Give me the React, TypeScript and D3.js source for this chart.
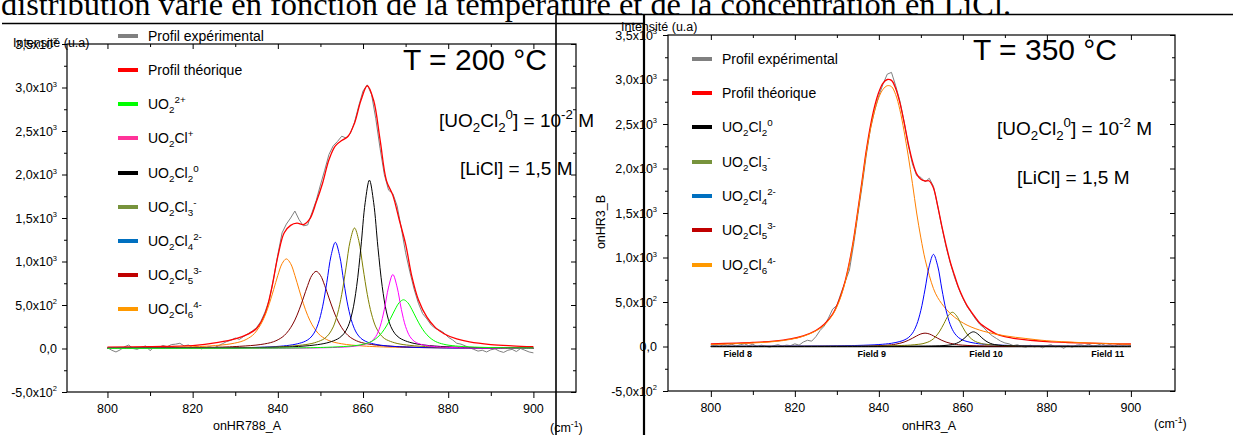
import * as d3 from "d3";
import React, { useEffect, useRef } from "react";

type Seg = { t: string; s?: "sub" | "sup" };

const SANS = "'Liberation Sans', Arial, sans-serif";
const SERIF = "'Liberation Serif', 'Times New Roman', serif";

// axis ticks, shared by both panels
const majorX = [800, 820, 840, 860, 880, 900];
const minorX = [810, 830, 850, 870, 890];
const majorY = [-500, 0, 500, 1000, 1500, 2000, 2500, 3000, 3500];
const minorY = [-250, 250, 750, 1250, 1750, 2250, 2750, 3250];

// experimental spectra are sampled every 1 cm-1 from 800 to 900
const expWave = d3.range(800, 901);

// ---------- T = 200 °C ----------
const exp200 = [
  10, -20, -40, -15, 20, 40, 0, -10, 15, 30,
  -25, 20, 10, 35, 20, 45, 50, 60, 30, 40,
  10, 25, -5, 10, 20, 5, 30, 55, 80, 95,
  120, 105, 140, 170, 200, 240, 310, 420, 560, 800,
  1080, 1330, 1430, 1500, 1580, 1480, 1410, 1420, 1560, 1700,
  1880, 2050, 2230, 2330, 2380, 2440, 2420, 2470, 2600, 2790,
  2960, 3030, 2920, 2640, 2300, 2000, 1820, 1780, 1640, 1380,
  1100, 880, 680, 520, 400, 340, 270, 230, 210, 180,
  130, 100, 60, 50, 30, 10, -10, -30, -20, -40,
  -15, -5, -30, -45, -20, -10, -35, 0, -20, -40,
  -50,
];
const theo200X = [800, 810, 820, 826, 830, 833, 835, 837, 838.5, 840, 841.5, 843, 844.5, 846, 847.5, 849, 850.5, 852, 853.5, 855, 856.5, 858, 859.5, 861, 862.5, 864, 865.5, 867, 868.5, 870, 871.5, 873, 875, 877, 879, 882, 885, 890, 895, 900];
const theo200Y = [15, 22, 34, 70, 110, 165, 230, 400, 680, 1060, 1330, 1415, 1440, 1425, 1490, 1680, 1900, 2170, 2330, 2390, 2440, 2590, 2850, 3020, 2850, 2400, 1930, 1760, 1480, 1200, 820, 560, 360, 240, 170, 110, 75, 45, 30, 20];
const cl6_200X = [800, 817, 824, 829, 832, 834, 835, 836, 837, 838, 839, 840, 841, 842, 843, 844, 845, 846, 847, 848, 849, 850, 852, 855, 860, 867, 900];
const cl6_200Y = [5, 15, 29, 54, 91, 149, 202, 277, 380, 515, 675, 840, 976, 1030, 976, 840, 675, 515, 380, 277, 202, 149, 91, 54, 29, 15, 3];
const cl5_200X = [800, 824, 831, 836, 839, 841, 842, 843, 844, 845, 846, 847, 848, 849, 850, 851, 852, 853, 854, 855, 856, 857, 859, 862, 867, 874, 900];
const cl5_200Y = [4, 13, 25, 46, 78, 129, 174, 239, 327, 444, 581, 724, 841, 887, 841, 724, 581, 444, 327, 239, 174, 129, 78, 46, 25, 13, 3];
const cl4_200X = [800, 828.5, 835.5, 840.5, 843.5, 845.5, 846.5, 847.5, 848.5, 849.5, 850.5, 851.5, 852.5, 853.5, 854.5, 855.5, 856.5, 857.5, 858.5, 859.5, 860.5, 861.5, 863.5, 866.5, 871.5, 878.5, 900];
const cl4_200Y = [2, 7, 14, 26, 43, 66, 85, 117, 177, 289, 479, 760, 1068, 1220, 1068, 760, 479, 289, 177, 117, 85, 66, 43, 26, 14, 7, 2];
const cl3_200X = [800, 833, 840, 845, 848, 850, 851, 852, 853, 854, 855, 856, 857, 858, 859, 860, 861, 862, 863, 864, 865, 866, 868, 871, 876, 883, 900];
const cl3_200Y = [2, 10, 19, 36, 58, 90, 116, 165, 248, 395, 622, 927, 1240, 1385, 1240, 927, 622, 395, 248, 165, 116, 90, 58, 36, 19, 10, 4];
const cl2_200X = [800, 836.5, 843.5, 848.5, 851.5, 853.5, 854.5, 855.5, 856.5, 857.5, 858.5, 859.5, 860.5, 861.5, 862.5, 863.5, 864.5, 865.5, 866.5, 867.5, 868.5, 869.5, 871.5, 874.5, 879.5, 886.5, 900];
const cl2_200Y = [2, 11, 20, 39, 64, 97, 124, 170, 255, 420, 714, 1163, 1676, 1935, 1676, 1163, 714, 420, 255, 170, 124, 97, 64, 39, 20, 11, 4];
const cl1_200X = [800, 842, 849, 854, 857, 859, 860, 861, 862, 863, 864, 865, 866, 867, 868, 869, 870, 871, 872, 873, 874, 875, 877, 880, 885, 892, 900];
const cl1_200Y = [1, 4, 7, 13, 21, 33, 43, 57, 83, 138, 251, 449, 706, 850, 706, 449, 251, 138, 83, 57, 43, 33, 21, 13, 7, 4, 2];
const uo2_200X = [800, 844.5, 851.5, 856.5, 859.5, 861.5, 862.5, 863.5, 864.5, 865.5, 866.5, 867.5, 868.5, 869.5, 870.5, 871.5, 872.5, 873.5, 874.5, 875.5, 876.5, 877.5, 879.5, 882.5, 887.5, 894.5, 900];
const uo2_200Y = [1, 7, 14, 26, 43, 70, 95, 133, 186, 259, 349, 446, 527, 560, 527, 446, 349, 259, 186, 133, 95, 70, 43, 26, 14, 7, 5];

// ---------- T = 350 °C ----------
const exp350 = [
  5, 15, 0, 20, 10, 25, 5, 20, 30, 10,
  25, 0, 15, 5, -10, 10, 20, 5, 15, 10,
  30, 15, 50, 70, 60, 110, 180, 230, 320, 420,
  460, 600, 730, 860, 1150, 1480, 1800, 2150, 2450, 2650,
  2820, 2950, 3060, 3080, 2930, 2760, 2530, 2260, 2050, 1920,
  1900, 1850, 1890, 1800, 1580, 1340, 1120, 940, 780, 650,
  540, 450, 380, 310, 250, 210, 160, 120, 90, 60,
  40, 30, 10, 20, 0, -10, 15, -5, 5, -15,
  10, 20, -5, 5, -20, 10, -10, 15, 20, 10,
  25, 5, 15, 30, 10, 20, 5, 25, 15, 20,
  10,
];
const theo350X = [800, 810, 815, 819, 822, 825, 827, 829, 830, 831, 832, 833, 834, 835, 836, 837, 838, 839, 840, 841, 842, 843, 844, 845, 846, 847, 848, 849, 850, 851, 852, 853, 854, 855, 856, 857, 858, 859, 860, 861, 862, 863, 864, 866, 868, 870, 873, 876, 880, 885, 890, 895, 900];
const theo350Y = [28, 45, 60, 85, 120, 180, 250, 365, 460, 580, 740, 950, 1210, 1530, 1860, 2200, 2480, 2700, 2860, 2960, 3000, 2990, 2900, 2740, 2520, 2280, 2080, 1940, 1880, 1860, 1860, 1780, 1580, 1350, 1140, 950, 800, 660, 550, 460, 390, 325, 265, 195, 140, 110, 85, 70, 55, 45, 38, 32, 28];
const cl6_350X = [800, 810, 815, 819, 822, 825, 827, 829, 830, 831, 832, 833, 834, 835, 836, 837, 838, 839, 840, 841, 842, 843, 844, 845, 846, 847, 848, 849, 850, 851, 852, 853, 854, 856, 858, 861, 865, 870, 875, 880, 890, 900];
const cl6_350Y = [22, 40, 55, 80, 115, 175, 240, 355, 445, 565, 725, 935, 1190, 1510, 1835, 2170, 2440, 2650, 2800, 2890, 2930, 2920, 2830, 2660, 2420, 2140, 1830, 1500, 1220, 980, 800, 650, 550, 420, 330, 240, 170, 120, 90, 65, 40, 25];
const cl5_350X = [800, 826, 833, 838, 841, 843, 844, 845, 846, 847, 848, 849, 850, 851, 852, 853, 854, 855, 856, 857, 858, 859, 861, 864, 869, 876, 900];
const cl5_350Y = [0, 2, 4, 7, 12, 19, 26, 36, 50, 69, 93, 119, 141, 150, 141, 119, 93, 69, 50, 36, 26, 19, 12, 7, 4, 2, 1];
const cl4_350X = [800, 828, 835, 840, 843, 845, 846, 847, 848, 849, 850, 851, 852, 853, 854, 855, 856, 857, 858, 859, 860, 861, 863, 866, 871, 878, 900];
const cl4_350Y = [2, 6, 12, 22, 36, 56, 72, 99, 150, 245, 407, 645, 906, 1035, 906, 645, 407, 245, 150, 99, 72, 56, 36, 22, 12, 6, 2];
const cl3_350X = [800, 832.5, 839.5, 844.5, 847.5, 849.5, 850.5, 851.5, 852.5, 853.5, 854.5, 855.5, 856.5, 857.5, 858.5, 859.5, 860.5, 861.5, 862.5, 863.5, 864.5, 865.5, 867.5, 870.5, 875.5, 882.5, 900];
const cl3_350Y = [1, 3, 5, 10, 16, 25, 32, 46, 69, 110, 173, 258, 345, 385, 345, 258, 173, 110, 69, 46, 32, 25, 16, 10, 5, 3, 1];
const cl2_350X = [800, 837.5, 844.5, 849.5, 852.5, 854.5, 855.5, 856.5, 857.5, 858.5, 859.5, 860.5, 861.5, 862.5, 863.5, 864.5, 865.5, 866.5, 867.5, 868.5, 869.5, 870.5, 872.5, 875.5, 880.5, 887.5, 900];
const cl2_350Y = [0, 1, 2, 3, 5, 8, 11, 15, 22, 36, 61, 99, 143, 165, 143, 99, 61, 36, 22, 15, 11, 8, 5, 3, 2, 1, 1];

const fieldNames = ["Field 8", "Field 9", "Field 10", "Field 11"];
const fieldWave = [806.4, 838.3, 865.5, 894.5];

// legend labels
const lblExp: Seg[] = [{ t: "Profil expérimental" }];
const lblTheo: Seg[] = [{ t: "Profil théorique" }];
const lblUO2: Seg[] = [{ t: "UO" }, { t: "2", s: "sub" }, { t: "2+", s: "sup" }];
const lblCl1: Seg[] = [{ t: "UO" }, { t: "2", s: "sub" }, { t: "Cl" }, { t: "+", s: "sup" }];
const lblCl2: Seg[] = [{ t: "UO" }, { t: "2", s: "sub" }, { t: "Cl" }, { t: "2", s: "sub" }, { t: "0", s: "sup" }];
const lblCl3: Seg[] = [{ t: "UO" }, { t: "2", s: "sub" }, { t: "Cl" }, { t: "3", s: "sub" }, { t: "-", s: "sup" }];
const lblCl4: Seg[] = [{ t: "UO" }, { t: "2", s: "sub" }, { t: "Cl" }, { t: "4", s: "sub" }, { t: "2-", s: "sup" }];
const lblCl5: Seg[] = [{ t: "UO" }, { t: "2", s: "sub" }, { t: "Cl" }, { t: "5", s: "sub" }, { t: "3-", s: "sup" }];
const lblCl6: Seg[] = [{ t: "UO" }, { t: "2", s: "sub" }, { t: "Cl" }, { t: "6", s: "sub" }, { t: "4-", s: "sup" }];
const lblConc: Seg[] = [{ t: "[UO" }, { t: "2", s: "sub" }, { t: "Cl" }, { t: "2", s: "sub" }, { t: "0", s: "sup" }, { t: "] = 10" }, { t: "-2", s: "sup" }, { t: " M" }];
const lblLiCl: Seg[] = [{ t: "[LiCl] = 1,5 M" }];
const lblCm: Seg[] = [{ t: "(cm" }, { t: "-1", s: "sup" }, { t: ")" }];

function rich(sel: any, x: number, y: number, segs: Seg[], size: number, opts: any = {}) {
  const t = sel.append("text")
    .attr("x", x).attr("y", y)
    .attr("font-family", opts.family || SANS)
    .attr("font-size", size)
    .attr("font-weight", opts.weight || "normal")
    .attr("text-anchor", opts.anchor || "start")
    .attr("fill", "#000")
    .style("white-space", "pre");
  if (opts.rotate) t.attr("transform", `rotate(${opts.rotate},${x},${y})`);
  const small = opts.small || 0.7;
  let shift = 0;
  segs.forEach((seg) => {
    const off = seg.s === "sub" ? size * 0.28 : seg.s === "sup" ? -size * 0.42 : 0;
    t.append("tspan")
      .attr("dy", off - shift)
      .attr("font-size", seg.s ? size * small : size)
      .text(seg.t);
    shift = off;
  });
  return t;
}

// "3,0x10^3" style labels
function yTickSegs(v: number): Seg[] {
  if (v === 0) return [{ t: "0,0" }];
  const e = Math.floor(Math.log10(Math.abs(v)));
  const m = v / Math.pow(10, e);
  return [{ t: m.toFixed(1).replace(".", ",") + "x10" }, { t: String(e), s: "sup" }];
}

function drawPanel(svg: any, p: any) {
  const x = d3.scaleLinear().domain(p.xDomain).range([p.left, p.right]);
  const y = d3.scaleLinear().domain([-500, 3500]).range([p.bottom, p.top]);
  const g = svg.append("g");

  const smooth = d3.line<number[]>().x((d) => x(d[0])).y((d) => y(d[1])).curve(d3.curveCatmullRom.alpha(0.5));
  const raw = d3.line<number[]>().x((d) => x(d[0])).y((d) => y(d[1]));

  if (p.zeroLine) {
    g.append("line")
      .attr("x1", x(800)).attr("x2", x(900))
      .attr("y1", y(0)).attr("y2", y(0))
      .attr("stroke", "#000").attr("stroke-width", 1.6);
  }

  p.curves.forEach((c: any) => {
    const pts = c.x.map((v: number, i: number) => [v, c.y[i]]);
    g.append("path")
      .attr("d", (c.linear ? raw : smooth)(pts))
      .attr("fill", "none")
      .attr("stroke", c.color)
      .attr("stroke-width", c.w)
      .attr("stroke-linejoin", "round");
  });

  // frame
  g.append("rect")
    .attr("x", p.left).attr("y", p.top)
    .attr("width", p.right - p.left).attr("height", p.bottom - p.top)
    .attr("fill", "none").attr("stroke", "#000").attr("stroke-width", 1.2);

  const ticks = (axis: any, tx: number, ty: number) =>
    g.append("g")
      .attr("transform", `translate(${tx},${ty})`)
      .call(axis)
      .call((s: any) => s.select(".domain").remove())
      .call((s: any) => s.selectAll("text").remove());
  ticks(d3.axisBottom(x).tickValues(majorX).tickSize(6), 0, p.bottom);
  ticks(d3.axisBottom(x).tickValues(minorX).tickSize(4), 0, p.bottom);
  ticks(d3.axisBottom(x).tickValues(majorX).tickSize(5), 0, p.top);
  ticks(d3.axisBottom(x).tickValues(minorX).tickSize(3), 0, p.top);
  ticks(d3.axisLeft(y).tickValues(majorY).tickSize(5), p.left, 0);
  ticks(d3.axisLeft(y).tickValues(minorY).tickSize(3), p.left, 0);
  ticks(d3.axisLeft(y).tickValues(majorY).tickSize(5), p.right, 0);
  ticks(d3.axisLeft(y).tickValues(minorY).tickSize(3), p.right, 0);

  majorX.forEach((v) => rich(g, x(v), p.bottom + 21, [{ t: String(v) }], 12.5, { anchor: "middle" }));
  majorY.forEach((v) => rich(g, p.left - p.labelGap, y(v) + 4.5, yTickSegs(v), 12.5, { anchor: "end", small: 0.6 }));

  // legend
  p.legend.forEach((it: any, i: number) => {
    const ly = p.legendY[i];
    g.append("line")
      .attr("x1", p.legendX).attr("x2", p.legendX + 20)
      .attr("y1", ly).attr("y2", ly)
      .attr("stroke", it.color).attr("stroke-width", 4);
    rich(g, p.legendX + 30, ly + 5, it.label, 14);
  });

  if (p.fields) {
    fieldNames.forEach((f, i) =>
      rich(g, x(fieldWave[i]), y(0) + 10.5, [{ t: f }], 9, { anchor: "middle", weight: "bold" })
    );
  }

  p.notes.forEach((n: any) => rich(g, n.x, n.y, n.segs, n.size, n.opts || {}));
}

export default function App() {
  const svgRef = useRef<SVGSVGElement>(null);

  useEffect(() => {
    const svg = d3.select(svgRef.current);
    svg.selectAll("*").remove();

    svg.append("rect").attr("width", 1233).attr("height", 435).attr("fill", "#fff");

    // line of text from the surrounding document, cut at the top
    svg.append("text")
      .attr("x", 1).attr("y", 14.5)
      .attr("font-family", SERIF).attr("font-size", 32.4)
      .text("distribution varie en fonction de la température et de la concentration en LiCl.");

    drawPanel(svg, {
      left: 67, right: 576, top: 44, bottom: 392,
      xDomain: [790.5, 910], labelGap: 10,
      curves: [
        { x: expWave, y: exp200, color: "#808080", w: 1, linear: true },
        { x: theo200X, y: theo200Y, color: "#ff0000", w: 1.3 },
        { x: cl6_200X, y: cl6_200Y, color: "#ff8000", w: 1 },
        { x: cl5_200X, y: cl5_200Y, color: "#800000", w: 1 },
        { x: cl4_200X, y: cl4_200Y, color: "#0000ff", w: 1 },
        { x: cl3_200X, y: cl3_200Y, color: "#808000", w: 1 },
        { x: cl2_200X, y: cl2_200Y, color: "#000000", w: 1 },
        { x: cl1_200X, y: cl1_200Y, color: "#ff00ff", w: 1 },
        { x: uo2_200X, y: uo2_200Y, color: "#00ff00", w: 1 },
      ],
      legendX: 118,
      legendY: [36, 70, 104, 138, 173, 207, 241, 275, 309],
      legend: [
        { label: lblExp, color: "#808080" },
        { label: lblTheo, color: "#ff0000" },
        { label: lblUO2, color: "#00ff00" },
        { label: lblCl1, color: "#ff3399" },
        { label: lblCl2, color: "#000000" },
        { label: lblCl3, color: "#77933c" },
        { label: lblCl4, color: "#0070c0" },
        { label: lblCl5, color: "#c00000" },
        { label: lblCl6, color: "#ff9900" },
      ],
      notes: [
        { x: 13, y: 47, segs: [{ t: "Intensité (u.a)" }], size: 12.5 },
        { x: 247, y: 430, segs: [{ t: "onHR788_A" }], size: 12.5, opts: { anchor: "middle" } },
        { x: 550, y: 432, segs: lblCm, size: 12.5 },
        { x: 403, y: 70, segs: [{ t: "T = 200 °C" }], size: 30 },
        { x: 439, y: 127, segs: lblConc, size: 19 },
        { x: 460, y: 175, segs: lblLiCl, size: 19 },
      ],
    });

    drawPanel(svg, {
      left: 668, right: 1175, top: 35, bottom: 391,
      xDomain: [789.8, 910.5], labelGap: 11, zeroLine: true, fields: true,
      curves: [
        { x: expWave, y: exp350, color: "#808080", w: 1, linear: true },
        { x: theo350X, y: theo350Y, color: "#ff0000", w: 1.3 },
        { x: cl6_350X, y: cl6_350Y, color: "#ff8000", w: 1 },
        { x: cl5_350X, y: cl5_350Y, color: "#800000", w: 1 },
        { x: cl4_350X, y: cl4_350Y, color: "#0000ff", w: 1 },
        { x: cl3_350X, y: cl3_350Y, color: "#808000", w: 1 },
        { x: cl2_350X, y: cl2_350Y, color: "#000000", w: 1 },
      ],
      legendX: 692,
      legendY: [59, 93, 127, 162, 196, 230, 265],
      legend: [
        { label: lblExp, color: "#808080" },
        { label: lblTheo, color: "#ff0000" },
        { label: lblCl2, color: "#000000" },
        { label: lblCl3, color: "#77933c" },
        { label: lblCl4, color: "#0070c0" },
        { label: lblCl5, color: "#c00000" },
        { label: lblCl6, color: "#ff9900" },
      ],
      notes: [
        { x: 621, y: 31, segs: [{ t: "Intensité (u.a)" }], size: 12.5 },
        { x: 605, y: 222, segs: [{ t: "onHR3_B" }], size: 12.5, opts: { anchor: "middle", rotate: -90 } },
        { x: 929, y: 430, segs: [{ t: "onHR3_A" }], size: 12.5, opts: { anchor: "middle" } },
        { x: 1154, y: 428, segs: lblCm, size: 12.5 },
        { x: 973, y: 60, segs: [{ t: "T = 350 °C" }], size: 30 },
        { x: 997, y: 135, segs: lblConc, size: 19 },
        { x: 1017, y: 184, segs: lblLiCl, size: 19 },
      ],
    });

    // page rules and column borders of the scanned document
    const rule = (x1: number, y1: number, x2: number, y2: number, w: number) =>
      svg.append("line").attr("x1", x1).attr("y1", y1).attr("x2", x2).attr("y2", y2)
        .attr("stroke", "#000").attr("stroke-width", w);
    rule(2, 23.5, 644, 23.5, 1.4);
    rule(556, 14.5, 1233, 14.5, 1.4);
    rule(556, 14.5, 556, 435, 1.6);
    rule(644, 14.5, 644, 435, 2.2);
  }, []);

  return (
    <svg
      ref={svgRef}
      width={1233}
      height={435}
      style={{ position: "absolute", left: 0, top: 0, display: "block" }}
    />
  );
}
